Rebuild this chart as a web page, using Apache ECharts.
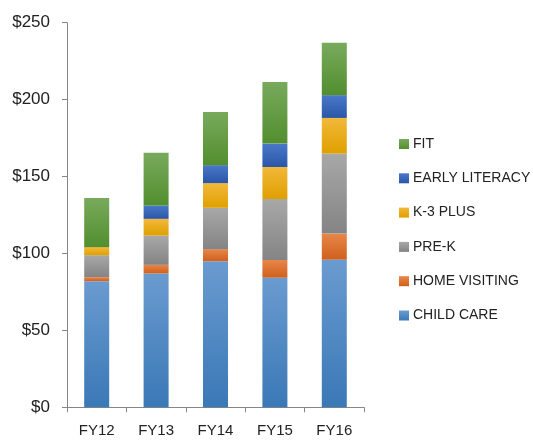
<!DOCTYPE html>
<html><head><meta charset="utf-8">
<script src="https://cdn.jsdelivr.net/npm/echarts@6/dist/echarts.min.js"></script>
<style>html,body{margin:0;padding:0;background:#fff}#c{width:533px;height:440px}</style>
</head><body><div id="c"></div>
<script>
const categories = ['FY12','FY13','FY14','FY15','FY16'];
const childCare = [82, 87, 95, 84.3, 96];
const homeVisiting = [2.6, 5.6, 7.8, 11.5, 16.9];
const preK = [14.3, 19.1, 26.9, 39.6, 52];
const k3Plus = [5.2, 10.8, 16, 20.8, 23.2];
const earlyLiteracy = [0, 8.7, 11.7, 15.2, 14.8];
const fit = [31.9, 34.2, 34.5, 40.1, 34];
const yTicks = [0, 50, 100, 150, 200, 250];

function grad(top, bottom){
  return new echarts.graphic.LinearGradient(0,0,0,1,[{offset:0,color:top},{offset:1,color:bottom}]);
}
const seriesDefs = [
  ['CHILD CARE', childCare, '#6a9bd0', '#3a78b6'],
  ['HOME VISITING', homeVisiting, '#e8864a', '#d0601c'],
  ['PRE-K', preK, '#a8a8a8', '#848484'],
  ['K-3 PLUS', k3Plus, '#f2b83a', '#e0a000'],
  ['EARLY LITERACY', earlyLiteracy, '#4a78c8', '#2a56a8'],
  ['FIT', fit, '#78aa5c', '#528e2e']
];
const chart = echarts.init(document.getElementById('c'));
chart.setOption({
  animation:false,
  backgroundColor:'#fff',
  grid:{left:67,right:169,top:22.7,bottom:32.7},
  legend:{
    orient:'vertical', left:394, top:131,
    data:['FIT','EARLY LITERACY','K-3 PLUS','PRE-K','HOME VISITING','CHILD CARE'],
    itemWidth:10, itemHeight:10, itemGap:18.3,
    icon:'rect',
    textStyle:{fontFamily:'Liberation Sans',fontSize:14,color:'#222',lineHeight:16,padding:[0,0,0,-1]}
  },
  xAxis:{
    type:'category', data:categories,
    axisLine:{lineStyle:{color:'#868686',width:1}},
    axisTick:{show:true,length:5,lineStyle:{color:'#868686'}},
    axisLabel:{fontFamily:'Liberation Sans',fontSize:15,color:'#222',margin:16}
  },
  yAxis:{
    type:'value', min:0, max:250, interval:50,
    splitLine:{show:false},
    axisLine:{show:true,lineStyle:{color:'#868686',width:1}},
    axisTick:{show:true,length:5,lineStyle:{color:'#868686'}},
    axisLabel:{fontFamily:'Liberation Sans',fontSize:17,color:'#222',margin:17,
      formatter:v=> yTicks.includes(v) ? '$'+v : ''}
  },
  series: seriesDefs.map(d=>({
    name:d[0], type:'bar', stack:'total', data:d[1], barWidth:25,
    itemStyle:{color:grad(d[2],d[3])}
  }))
});
</script></body></html>
